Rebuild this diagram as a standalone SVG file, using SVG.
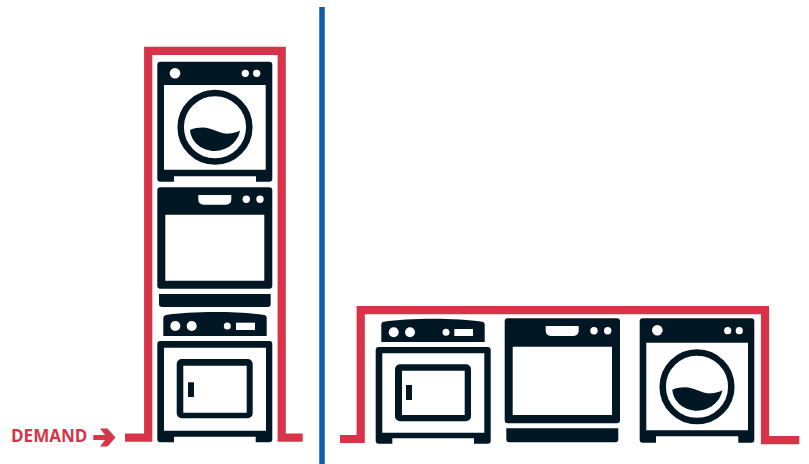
<svg xmlns="http://www.w3.org/2000/svg" width="809" height="464" viewBox="0 0 809 464">
<style>
.k{fill:#021724}
.w{fill:#fff}
.r{fill:none;stroke:#d93349;stroke-width:8.2;stroke-linejoin:miter}
.t{font-family:"Open Sans","Liberation Sans",sans-serif;font-weight:700;font-size:17.5px;fill:#d93349}
</style>
<defs>
<path id="water" class="k" d="M-25 2.7C-18 0-11-.5-5 1.5C3 4 8 7 14 6.3C18 6 22 5 25 3.3C23 15 12 23.7 0 23.7C-13 23.7-24 15-25 2.7Z"/>
</defs>
<rect width="809" height="464" fill="#fff"/>
<g id="connectors">
<path class="r" d="M125 437.6H148.2V50.8H281.7V437.6H302.7"/>
<path class="r" d="M340 439H360.7V310.2H765V440.2H799.3"/>
<path d="M322 7V464" fill="none" stroke="#0b5ea8" stroke-width="5.5"/>
<path fill="#d93349" d="M93.3 435H105L100 428.5H107.5L115.5 437.5L107.5 446.5H100L105 440H93.3Z"/>
</g>
<g id="washer-stacked">
<path class="k" fill-rule="evenodd" d="M160.3 61.7H269.3a3 3 0 0 1 3 3V178.7a3 3 0 0 1-3 3H256V176.3H174V181.7H160.3a3 3 0 0 1-3-3V64.7a3 3 0 0 1 3-3ZM164 85V169.7H265.7V85Z"/>
<circle class="w" cx="175" cy="73.3" r="5.3"/><circle class="w" cx="245.3" cy="73.3" r="3.6"/><circle class="w" cx="256.7" cy="73.3" r="3.6"/>
<circle cx="215" cy="127.3" r="34.3" fill="none" stroke="#021724" stroke-width="6.5"/>
<use href="#water" x="215" y="127.3"/>
</g>
<g id="oven-stacked">
<path class="k" fill-rule="evenodd" d="M160.3 187.3H269.3a3 3 0 0 1 3 3V285.7a3 3 0 0 1-3 3H160.3a3 3 0 0 1-3-3V190.3a3 3 0 0 1 3-3ZM165.3 214.7V280.7H264.3V214.7ZM198.3 195V199.7a5 5 0 0 0 5 5H226.3a5 5 0 0 0 5-5V195Z"/>
<circle class="w" cx="246.3" cy="199.3" r="3.7"/><circle class="w" cx="260" cy="199.3" r="3.7"/>
<path class="k" d="M159 294H270.7V304a3 3 0 0 1-3 3H162a3 3 0 0 1-3-3Z"/>
</g>
<g id="dryer-stacked">
<path class="k" d="M163.3 336V318a3 3 0 0 1 2.6-3C190 311 240 311 264 315a3 3 0 0 1 2.7 3V336Z"/>
<circle class="w" cx="175.3" cy="326" r="5"/><circle class="w" cx="191.7" cy="326" r="5"/><circle class="w" cx="227.3" cy="326" r="3.5"/>
<rect class="w" x="236" y="322.7" width="19" height="7.3"/>
<path class="k" fill-rule="evenodd" d="M160.3 341H269.3a3 3 0 0 1 3 3V439.3a3 3 0 0 1-3 3H255.7V436.7H174V442.3H160.3a3 3 0 0 1-3-3V344a3 3 0 0 1 3-3ZM164 347.7V430.7H266V347.7Z"/>
<path class="k" fill-rule="evenodd" d="M181.7 359H247.7a5 5 0 0 1 5 5V413.3a5 5 0 0 1-5 5H181.7a5 5 0 0 1-5-5V364a5 5 0 0 1 5-5ZM183.3 365.7V412.7H246.7V365.7Z"/>
<rect class="k" x="188" y="382.3" width="6" height="14.7"/>
</g>
<g id="dryer-row">
<path class="k" d="M381.3 342V324.7a3 3 0 0 1 2.6-3C408 317.7 458 317.7 482 321.7a3 3 0 0 1 2.7 3V342Z"/>
<circle class="w" cx="393.7" cy="332.3" r="5"/><circle class="w" cx="410" cy="332.3" r="5"/><circle class="w" cx="446" cy="332.3" r="3.5"/>
<rect class="w" x="454.3" y="329" width="18.7" height="7"/>
<path class="k" fill-rule="evenodd" d="M378.7 347H487.7a3 3 0 0 1 3 3V440.7a3 3 0 0 1-3 3H474V438.3H392.3V443.7H378.7a3 3 0 0 1-3-3V350a3 3 0 0 1 3-3ZM382.3 353.3V432.7H484.3V353.3Z"/>
<path class="k" fill-rule="evenodd" d="M400 364.3H466a5 5 0 0 1 5 5V416.3a5 5 0 0 1-5 5H400a5 5 0 0 1-5-5V369.3a5 5 0 0 1 5-5ZM402 370.7V415H464.7V370.7Z"/>
<rect class="k" x="406" y="385" width="6" height="15"/>
</g>
<g id="oven-row">
<path class="k" fill-rule="evenodd" d="M507.7 318.3H617a3 3 0 0 1 3 3V420.3a3 3 0 0 1-3 3H507.7a3 3 0 0 1-3-3V321.3a3 3 0 0 1 3-3ZM512.7 346.7V415H612V346.7ZM545.7 326V331a5 5 0 0 0 5 5H573.7a5 5 0 0 0 5-5V326Z"/>
<circle class="w" cx="594" cy="330.7" r="3.7"/><circle class="w" cx="607.7" cy="330.7" r="3.7"/>
<path class="k" d="M506.3 428.3H618.3V439.3a3 3 0 0 1-3 3H509.3a3 3 0 0 1-3-3Z"/>
</g>
<g id="washer-row">
<path class="k" fill-rule="evenodd" d="M642.7 318.3H751.3a3 3 0 0 1 3 3V439.7a3 3 0 0 1-3 3H738.3V436.3H656V442.7H642.7a3 3 0 0 1-3-3V321.3a3 3 0 0 1 3-3ZM646.3 342.7V430.3H748V342.7Z"/>
<circle class="w" cx="657.3" cy="330.3" r="5.3"/><circle class="w" cx="727.7" cy="330.7" r="3.6"/><circle class="w" cx="739.3" cy="330.7" r="3.6"/>
<circle cx="697" cy="386.7" r="34.3" fill="none" stroke="#021724" stroke-width="6.5"/>
<use href="#water" x="697.3" y="387"/>
</g>
<text class="t" x="11" y="441.7" textLength="76.5" lengthAdjust="spacingAndGlyphs">DEMAND</text>
</svg>
